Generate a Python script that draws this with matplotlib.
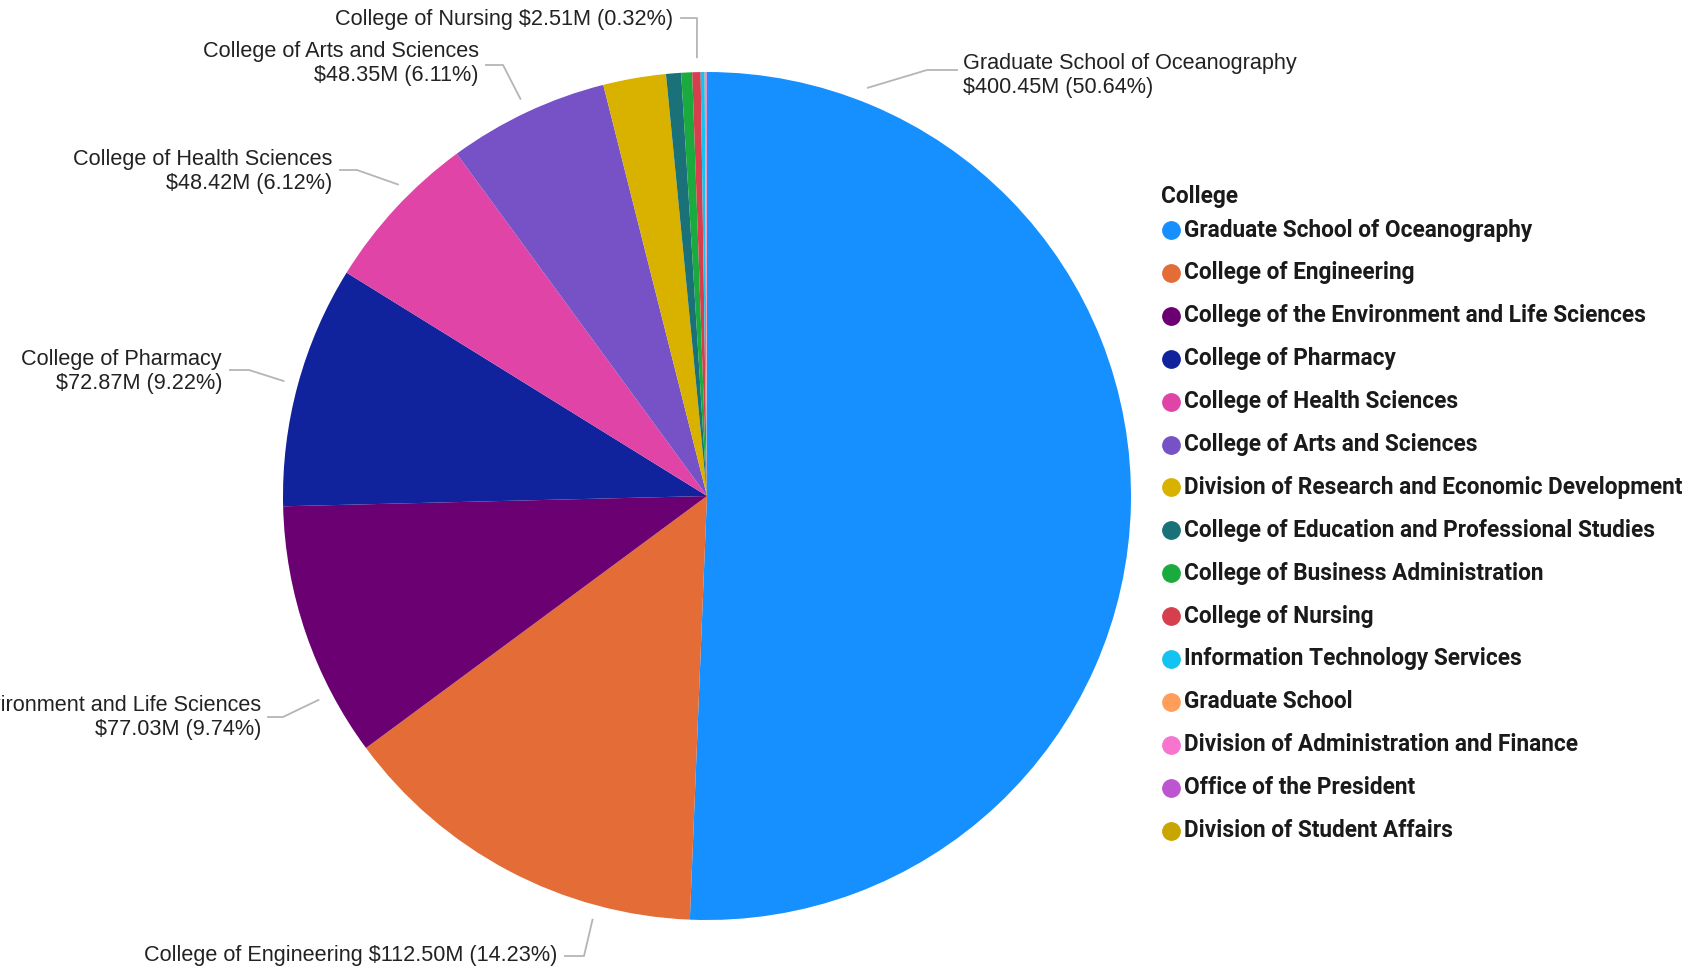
import numpy as np
import matplotlib
matplotlib.use("Agg")
import matplotlib.pyplot as plt
from matplotlib.lines import Line2D

# ---------------- data ----------------
colleges = [
    "Graduate School of Oceanography",
    "College of Engineering",
    "College of the Environment and Life Sciences",
    "College of Pharmacy",
    "College of Health Sciences",
    "College of Arts and Sciences",
    "Division of Research and Economic Development",
    "College of Education and Professional Studies",
    "College of Business Administration",
    "College of Nursing",
    "Information Technology Services",
    "Graduate School",
    "Division of Administration and Finance",
    "Office of the President",
    "Division of Student Affairs",
]
funding_musd = [400.45, 112.50, 77.03, 72.87, 48.42, 48.35, 18.9, 4.5, 3.3,
                2.51, 1.2, 0.4, 0.2, 0.07, 0.02]
colors = ["#168FFF", "#E46C36", "#6A0072", "#10229C", "#DF44A6", "#7652C6",
          "#D9B200", "#1B7178", "#1BAA3E", "#D6404E", "#15C3F1", "#FF9E5B",
          "#F774CF", "#BE55D0", "#C9A500"]
legend_title = "College"

# labelled slices: index -> (text x px, text y px of first line, ha, single line?, elbow px, end px, fraction in wedge)
label_layout = {
    0: (963, 64, "left", False, (927, 70), (957, 70), 0.118),
    1: (557, 955, "right", True, (584, 956), (565, 956), 0.25),
    2: (261, 706, "right", False, (283, 717), (268, 717), 0.25),
    3: (222, 359, "right", False, (249, 370), (230, 370), 0.5),
    4: (332, 159, "right", False, (357, 170), (340, 170), 0.61),
    5: (479, 52, "right", False, (503, 65), (486, 65), 0.5),
    9: (673, 20, "right", True, (697, 18), (681, 18), 0.6),
}

W, H = 1695, 967
DPI = 100
fig = plt.figure(figsize=(W / DPI, H / DPI), dpi=DPI)
fig.patch.set_facecolor("white")

cx, cy, R = 707, 496, 424
ax = fig.add_axes([(cx - R) / W, 1 - (cy + R) / H, 2 * R / W, 2 * R / H])
wedges, _ = ax.pie(funding_musd, colors=colors, startangle=90, counterclock=False,
                   radius=1.0, wedgeprops=dict(linewidth=0))
ax.set_xlim(-1, 1)
ax.set_ylim(-1, 1)
ax.set_aspect("auto")
ax.axis("off")


def px(x, y):
    return x / W, 1 - y / H


label_font = dict(family=["Liberation Sans", "DejaVu Sans"], size=15.6, color="#222222")
line_col = "#B5B5B5"
total = sum(funding_musd)
for i, (tx, ty, ha, single, elbow, end, frac) in label_layout.items():
    w = wedges[i]
    # clockwise wedges: start edge is theta2
    th = np.deg2rad(w.theta2 - (w.theta2 - w.theta1) * frac)
    r = 1.035
    dx, dy = ax.transData.transform((r * np.cos(th), r * np.sin(th)))
    sx, sy = fig.transFigure.inverted().transform((dx, dy))
    ex, ey = px(*elbow)
    fx, fy = px(*end)
    fig.add_artist(Line2D([sx, ex, fx], [sy, ey, fy], transform=fig.transFigure,
                          color=line_col, lw=1.3))
    val = funding_musd[i]
    pct = val / total * 100
    if single:
        txt = f"{colleges[i]} ${val:.2f}M ({pct:.2f}%)"
        fig.text(*px(tx, ty), txt, ha=ha, va="center", **label_font)
    else:
        fig.text(*px(tx, ty), colleges[i], ha=ha, va="center", **label_font)
        fig.text(*px(tx, ty + 24), f"${val:.2f}M ({pct:.2f}%)", ha=ha, va="center", **label_font)

# legend
leg_font = dict(family=["Roboto", "DejaVu Sans"], size=16.3, weight="bold", color="#1a1a1a")
fig.text(*px(1161, 197), legend_title, ha="left", va="center", **leg_font)
y0, step = 230, 42.9
for k, (name, c) in enumerate(zip(colleges, colors)):
    y = y0 + k * step
    fig.add_artist(Line2D([1171 / W], [1 - y / H], transform=fig.transFigure,
                          marker="o", markersize=12.5, color=c, linestyle="none"))
    fig.text(*px(1184, y), name, ha="left", va="center", **leg_font)

fig.savefig("out.png", dpi=DPI, facecolor="white")
